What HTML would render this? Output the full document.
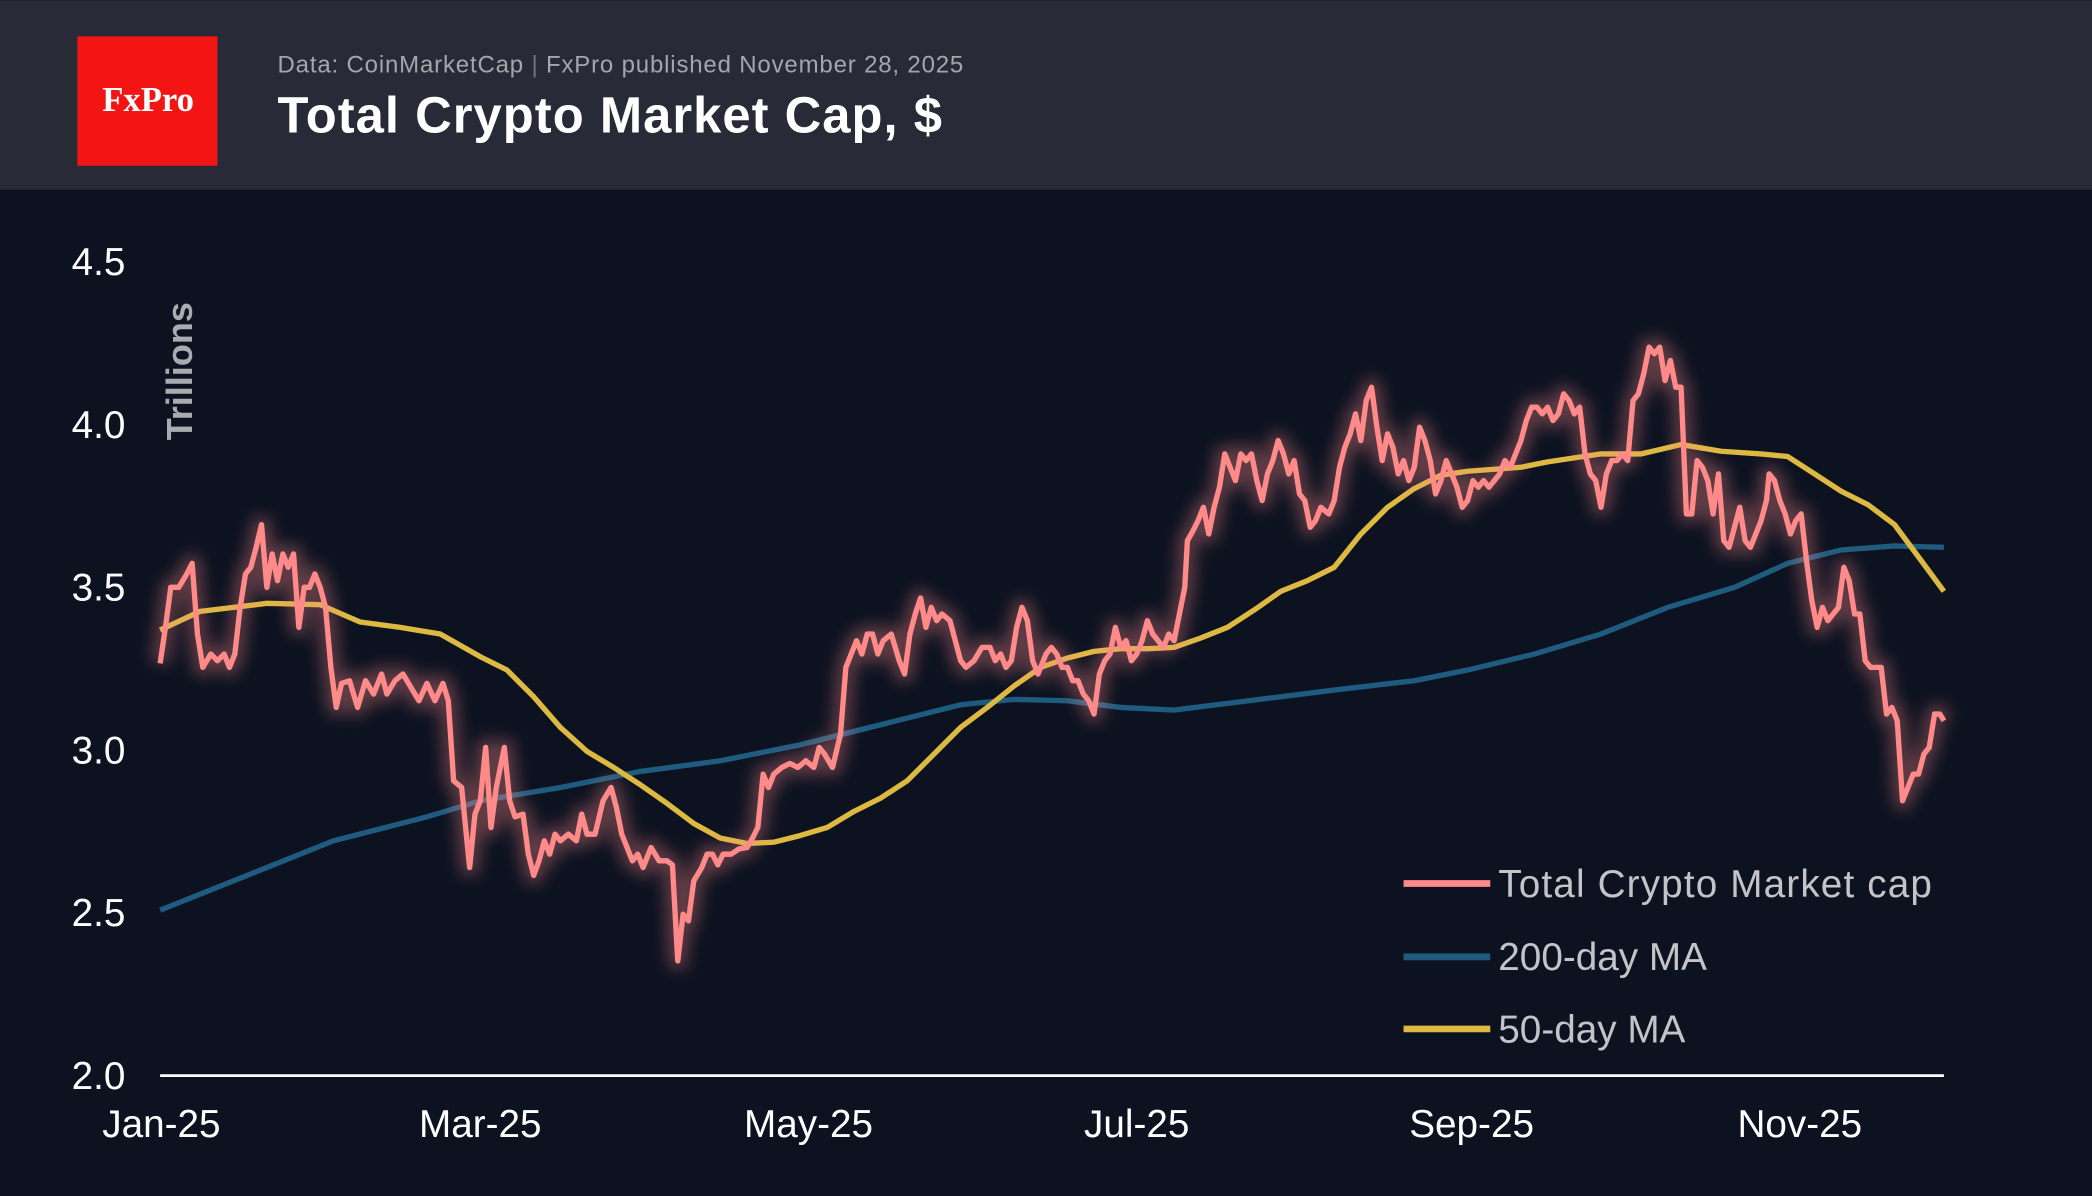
<!DOCTYPE html>
<html><head><meta charset="utf-8"><style>html,body{margin:0;padding:0;background:#0c1220;}svg{display:block}</style></head>
<body>
<svg width="2092" height="1196" viewBox="0 0 1568 896" xmlns="http://www.w3.org/2000/svg" font-family="'Liberation Sans', sans-serif">
<defs><filter id="g" x="-10%" y="-10%" width="120%" height="120%"><feGaussianBlur stdDeviation="6"/></filter></defs>
<rect width="1568" height="896" fill="#0c1220"/>
<rect width="1568" height="142" fill="#282b37"/>
<rect x="58" y="27" width="105" height="97" fill="#f31414"/>
<text x="111" y="83" text-anchor="middle" font-family="'Liberation Serif', serif" font-size="26" font-weight="bold" fill="#fff">FxPro</text>
<text x="208" y="54" font-size="18" fill="#a4a6ad" textLength="514">Data: CoinMarketCap <tspan fill="#777">|</tspan> FxPro published November 28, 2025</text>
<text x="208" y="99" font-size="38" font-weight="bold" fill="#fff" textLength="498">Total Crypto Market Cap, $</text>
<g font-size="29" fill="#fff">
<text x="94" y="206" text-anchor="end">4.5</text>
<text x="94" y="328" text-anchor="end">4.0</text>
<text x="94" y="450" text-anchor="end">3.5</text>
<text x="94" y="572" text-anchor="end">3.0</text>
<text x="94" y="694" text-anchor="end">2.5</text>
<text x="94" y="816" text-anchor="end">2.0</text>
<text x="121" y="852" text-anchor="middle">Jan-25</text>
<text x="360" y="852" text-anchor="middle">Mar-25</text>
<text x="606" y="852" text-anchor="middle">May-25</text>
<text x="852" y="852" text-anchor="middle">Jul-25</text>
<text x="1103" y="852" text-anchor="middle">Sep-25</text>
<text x="1349" y="852" text-anchor="middle">Nov-25</text>
</g>
<text transform="translate(144,278) rotate(-90)" text-anchor="middle" font-size="27" font-weight="bold" fill="#a9abb0">Trillions</text>
<line x1="120" y1="806" x2="1457" y2="806" stroke="#fff" stroke-width="2"/>
<polyline fill="none" stroke="#1e5b7e" stroke-width="4" points="120,682 200,650 250,630 320,612 360,600 420,590 480,578 540,570 600,558 660,543 720,528 760,524 800,525 840,530 880,532 920,527 960,522 1000,517 1060,510 1100,502 1150,490 1200,475 1250,455 1300,440 1340,422 1380,412 1420,409 1457,410"/>
<polyline fill="none" stroke="#ddb941" stroke-width="4" stroke-linejoin="round" points="120,472 150,458 200,452 240,453 270,466 300,470 330,475 360,492 380,502 400,522 420,545 440,563 460,575 480,588 500,602 520,617 540,628 560,632 580,631 600,626 620,620 640,608 660,598 680,585 700,565 720,545 740,530 760,514 780,500 800,493 820,488 840,486 860,486 880,485 900,478 920,470 940,457 960,443 980,435 1000,425 1020,400 1040,380 1060,366 1080,356 1100,353 1140,350 1160,346 1180,343 1200,340 1230,340 1260,333 1290,338 1320,340 1340,342 1360,355 1380,368 1400,378 1420,393 1440,420 1457,443"/>
<g id="red">
<polyline id="rp" fill="none" stroke-linejoin="round" points="120,497 124,470 128,440 134,440 140,430 144,422 148,475 152,500 158,490 163,495 168,490 172,500 176,490 180,455 184,430 188,425 192,410 196,393 200,440 204,415 208,435 212,415 216,425 220,415 224,470 228,440 232,440 236,430 240,440 244,455 248,500 252,530 256,512 262,510 268,530 274,510 280,520 286,505 290,520 296,510 302,505 308,515 314,525 320,512 326,525 332,512 336,525 340,585 346,590 352,650 356,610 360,600 364,560 368,620 372,590 378,560 382,600 386,612 392,610 396,640 400,656 404,645 408,630 412,640 416,625 420,630 426,625 432,630 436,610 440,625 446,625 452,600 458,590 462,605 466,625 470,635 474,645 478,640 482,650 488,635 494,645 500,645 504,648 508,720 512,685 516,690 520,660 526,650 530,640 534,640 538,648 542,640 548,640 554,636 560,635 564,628 568,620 572,580 576,590 580,580 586,575 592,572 598,575 604,570 610,575 614,560 618,565 624,575 630,550 634,500 638,490 642,480 646,490 650,475 654,475 658,490 662,480 668,475 674,495 678,505 682,475 686,460 690,448 694,470 698,455 702,465 706,460 712,465 716,480 720,495 724,500 730,495 736,485 742,485 746,495 750,490 754,500 758,495 762,470 766,455 770,465 774,495 778,505 784,490 788,485 792,490 796,500 800,500 804,510 808,510 812,520 816,525 820,535 824,505 828,495 832,490 836,470 840,485 844,480 848,495 852,490 856,480 860,465 864,475 868,480 872,485 876,475 880,480 884,460 888,440 890,405 894,398 898,390 902,380 906,400 910,380 914,365 918,340 922,350 926,360 930,340 934,345 938,340 942,360 946,375 950,355 954,345 958,330 962,340 966,355 970,345 974,370 978,375 982,395 986,390 990,380 996,385 1000,375 1004,350 1008,335 1012,325 1016,310 1020,330 1024,300 1028,290 1032,320 1036,345 1040,325 1044,335 1048,355 1052,345 1056,360 1060,350 1064,320 1068,330 1072,345 1076,370 1080,360 1084,345 1088,355 1092,365 1096,380 1100,375 1104,360 1108,365 1112,360 1116,365 1120,360 1124,355 1128,345 1132,350 1136,340 1140,330 1144,315 1148,305 1152,305 1156,310 1160,305 1164,315 1168,310 1172,295 1176,300 1180,310 1184,305 1188,340 1192,355 1196,360 1200,380 1204,355 1208,345 1212,345 1216,340 1220,345 1224,300 1228,295 1232,280 1236,260 1240,265 1244,260 1248,285 1252,270 1256,290 1260,290 1264,385 1268,385 1272,345 1276,350 1280,360 1284,385 1288,355 1292,405 1296,410 1300,395 1304,380 1308,405 1312,410 1316,400 1320,390 1324,375 1326,355 1330,360 1334,375 1338,385 1342,400 1346,390 1350,385 1354,420 1358,450 1362,470 1366,455 1370,465 1374,460 1378,455 1382,425 1386,435 1390,460 1394,460 1398,495 1402,500 1406,500 1410,500 1414,535 1418,530 1422,540 1426,600 1430,590 1434,580 1438,580 1442,565 1446,560 1450,535 1454,535 1457,540"/>
</g>
<use href="#rp" stroke="#ff8a8a" stroke-width="14" opacity="0.35" filter="url(#g)"/>
<use href="#rp" stroke="#ff8a8a" stroke-width="4"/>
<g font-size="29" fill="#c4c4c8">
<line x1="1052" y1="662" x2="1117" y2="662" stroke="#ff8a8a" stroke-width="5"/>
<text x="1123" y="672" textLength="325">Total Crypto Market cap</text>
<line x1="1052" y1="717" x2="1117" y2="717" stroke="#1e5b7e" stroke-width="5"/>
<text x="1123" y="727">200-day MA</text>
<line x1="1052" y1="771" x2="1117" y2="771" stroke="#ddb941" stroke-width="5"/>
<text x="1123" y="781">50-day MA</text>
</g>
</svg>
</body></html>
